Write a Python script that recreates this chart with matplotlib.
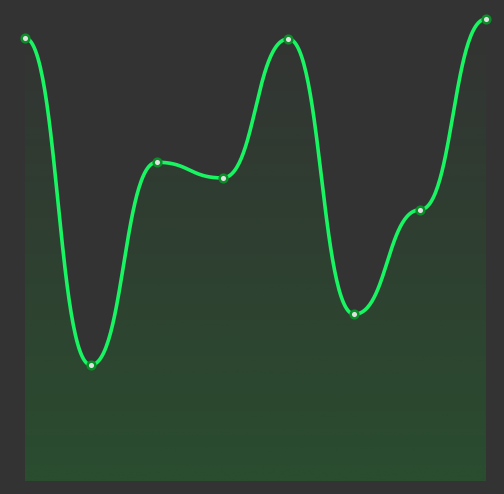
import numpy as np
import matplotlib
matplotlib.use("Agg")
import matplotlib.pyplot as plt
from matplotlib.patches import Polygon

# data (0-100 scale)
categories = ["A", "B", "C", "D", "E", "F", "G", "H"]
values = [95.9, 25.1, 69.0, 65.6, 95.7, 36.1, 58.7, 100.0]

BG = "#333333"
LINE = "#19f562"
FILL_RGB = (21 / 255, 138 / 255, 38 / 255)


def bump_x(xs, ys, n=60):
    """smooth curve: each segment is a cubic bezier with horizontal tangents"""
    px, py = [], []
    t = np.linspace(0, 1, n)
    for i in range(len(xs) - 1):
        x0, x1 = xs[i], xs[i + 1]
        y0, y1 = ys[i], ys[i + 1]
        xm = (x0 + x1) / 2
        bx = (1 - t) ** 3 * x0 + 3 * (1 - t) ** 2 * t * xm + 3 * (1 - t) * t ** 2 * xm + t ** 3 * x1
        by = (1 - t) ** 3 * y0 + 3 * (1 - t) ** 2 * t * y0 + 3 * (1 - t) * t ** 2 * y1 + t ** 3 * y1
        if i > 0:
            bx, by = bx[1:], by[1:]
        px.append(bx)
        py.append(by)
    return np.concatenate(px), np.concatenate(py)


fig = plt.figure(figsize=(5.04, 4.94), dpi=100, facecolor=BG)
ax = fig.add_axes([25 / 504, 13 / 494, 461 / 504, 462 / 494])
ax.set_facecolor(BG)

x = np.arange(len(categories))
cx, cy = bump_x(x, values)

ax.set_xlim(0, len(categories) - 1)
ax.set_ylim(0, 100)

# gradient fill under the curve
grad = np.zeros((256, 1, 4))
grad[:, 0, 0], grad[:, 0, 1], grad[:, 0, 2] = FILL_RGB
grad[:, 0, 3] = np.linspace(0.3, 0.0, 256)
im = ax.imshow(grad, aspect="auto", origin="lower",
               extent=[0, len(categories) - 1, 0, 100], zorder=1)
verts = np.column_stack([np.r_[cx, cx[-1], cx[0]], np.r_[cy, 0, 0]])
poly = Polygon(verts, closed=True, facecolor="none", edgecolor="none")
ax.add_patch(poly)
im.set_clip_path(poly)

ax.plot(cx, cy, color=LINE, lw=2.6, zorder=3, clip_on=False,
        solid_capstyle="round")
ax.plot(x, values, "o", ms=5.5, mfc="#e0e0e0", mec="#0a8f28", mew=1.8,
        zorder=4, clip_on=False)

for s in ax.spines.values():
    s.set_visible(False)
ax.set_xticks([])
ax.set_yticks([])

fig.savefig("out.png", dpi=100, facecolor=BG)
